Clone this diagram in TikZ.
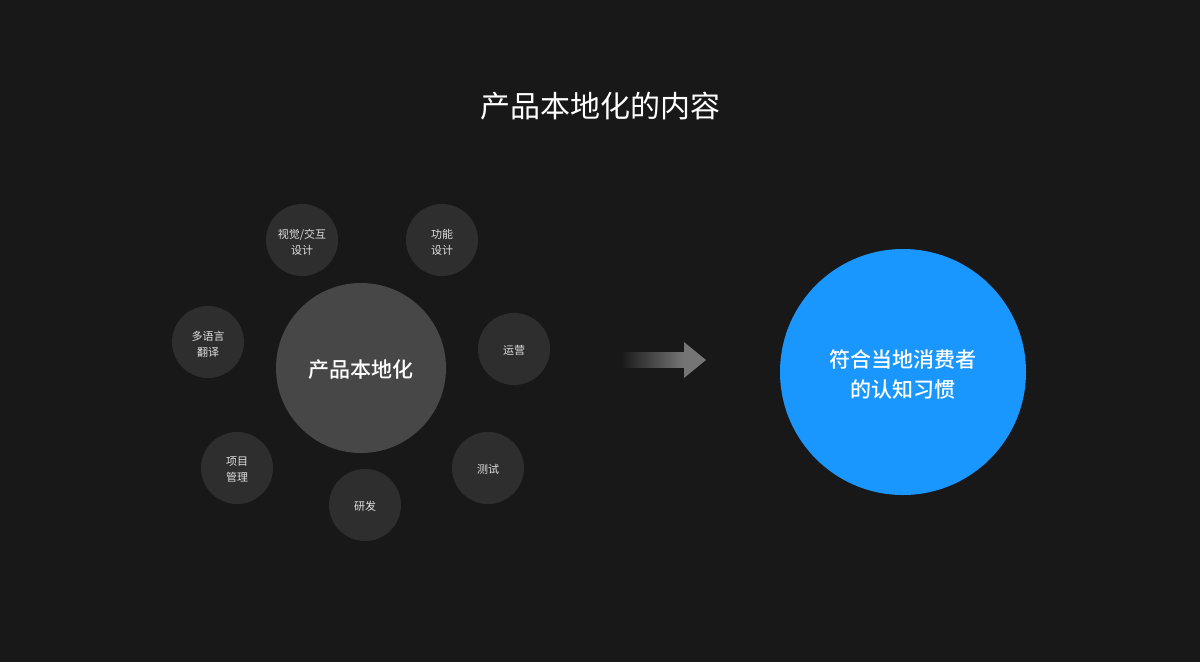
\documentclass[tikz,border=0pt]{standalone}
\usepackage{fontspec}
\setmainfont{Noto Sans CJK SC}
\newfontfamily\cjkmed{Noto Sans CJK SC}[UprightFont=* Medium]
\definecolor{bg}{HTML}{181818}
\definecolor{smallc}{HTML}{2E2E2E}
\definecolor{bigc}{HTML}{474747}
\definecolor{bluec}{HTML}{1A96FF}
\definecolor{txtgray}{HTML}{E0E0E0}
\definecolor{arrowc}{HTML}{757575}
\begin{document}
\begin{tikzpicture}[x=1pt,y=-1pt,
  smallnode/.style={circle,fill=smallc,minimum size=72pt,inner sep=0pt,text=txtgray,font=\fontsize{11}{16}\selectfont,align=center},
  smalltext/.style={text=txtgray,font=\fontsize{11}{16}\selectfont,align=center,inner sep=0pt},
  bignode/.style={circle,fill=bigc,minimum size=170pt,inner sep=0pt},
  bigtext/.style={text=white,font=\fontsize{21}{30}\selectfont\cjkmed,align=center,inner sep=0pt},
  bluenode/.style={circle,fill=bluec,minimum size=246pt,inner sep=0pt},
  titlenode/.style={text=white,font=\fontsize{30}{34}\selectfont}]
\fill[bg] (0,0) rectangle (1200,662);
\useasboundingbox (0,0) rectangle (1200,662);
\node[titlenode] (title) at (600,106) {产品本地化的内容};
\node[bignode,label={[bigtext,yshift=-2pt]center:产品本地化}] (center) at (361,368) {};
\node[smallnode,label={[smalltext,yshift=-2pt]center:视觉/交互\\设计}] (visual) at (302,240) {};
\node[smallnode,label={[smalltext,yshift=-2pt]center:功能\\设计}] (func) at (442,240) {};
\node[smallnode,label={[smalltext,yshift=-2pt]center:多语言\\翻译}] (lang) at (208,342) {};
\node[smallnode,label={[smalltext,yshift=-1pt]center:运营}] (ops) at (514,349) {};
\node[smallnode,label={[smalltext,yshift=-2pt]center:项目\\管理}] (pm) at (237,468) {};
\node[smallnode,label={[smalltext,yshift=-1pt]center:研发}] (rd) at (365,505) {};
\node[smallnode,label={[smalltext,yshift=-1pt]center:测试}] (test) at (488,468) {};
\node[bluenode,label={[bigtext,yshift=-2pt]center:符合当地消费者\\的认知习惯}] (goal) at (903,372) {};
% arrow
\coordinate (as) at (620,360);
\coordinate (ab) at (684,360);
\coordinate (at) at (706,360);
\shade[left color=bg,right color=arrowc,shading angle=90] ([yshift=-7.5pt]as) rectangle ([yshift=7.5pt]ab);
\fill[arrowc] ([yshift=-18pt]ab) -- (at) -- ([yshift=18pt]ab) -- cycle;
\end{tikzpicture}
\end{document}
